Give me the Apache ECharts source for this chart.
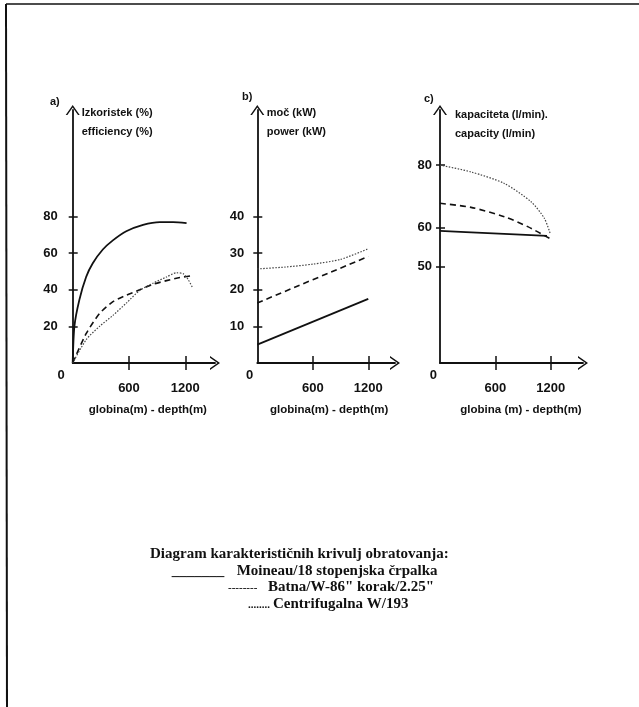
<!DOCTYPE html>
<html lang="sl">
<head>
<meta charset="UTF-8">
<title>Diagram karakterističnih krivulj obratovanja</title>
<script src="https://cdn.jsdelivr.net/npm/echarts@6/dist/echarts.min.js"></script>
<style>
  html, body { margin: 0; padding: 0; background: #fff; }
  #main { width: 639px; height: 707px; }
</style>
</head>
<body>
<div id="main"></div>
<script>
// globina (m) - depth (m)
var depthTicks = [600, 1200];

// a) izkoristek (%) - efficiency (%)
var effTicks = [20, 40, 60, 80];
var effMoineau = [[0, 0], [18, 20], [71, 34.5], [143, 47], [214, 54.5], [321, 62], [428, 67], [571, 72], [750, 75.5], [929, 77], [1071, 77], [1214, 76.4]];
var effBatna = [[0, 0], [143, 16], [286, 27], [429, 33.5], [571, 37], [714, 40], [857, 43], [1000, 45], [1143, 46.7], [1268, 47.6]];
var effCentrif = [[0, 0], [143, 12.7], [286, 20], [429, 26], [571, 32.7], [714, 39.6], [857, 43.6], [1000, 47], [1107, 49.3], [1179, 48.7], [1232, 45.5], [1279, 41]];

// b) moč (kW) - power (kW)
var powTicks = [10, 20, 30, 40];
var powMoineau = [[0, 5], [1200, 17.5]];
var powBatna = [[0, 16.4], [1200, 29.1]];
var powCentrif = [[0, 25.7], [300, 26.2], [600, 27], [900, 28.3], [1200, 31.2]];

// c) kapaciteta (l/min) - capacity (l/min)
var capTicks = [50, 60, 80];
var capMoineau = [[0, 59.1], [517, 58.5], [1160, 57.8]];
var capBatna = [[0, 67.7], [336, 66.4], [697, 63.4], [951, 60.2], [1186, 57.2]];
var capCentrif = [[0, 80], [336, 77.8], [697, 74.1], [987, 68.2], [1131, 62.9], [1196, 58.3]];

// the c) axis is drawn out of proportion: label value -> axis position
var capScaleFrom = [0, 50, 60, 80];
var capScaleTo = [0, 50, 70.5, 102.8];

function capPos(v) {
  for (var i = 1; i < capScaleFrom.length; i++) {
    if (v <= capScaleFrom[i] || i == capScaleFrom.length - 1) {
      var a = capScaleFrom[i - 1], b = capScaleFrom[i];
      var pa = capScaleTo[i - 1], pb = capScaleTo[i];
      return pa + (v - a) / (b - a) * (pb - pa);
    }
  }
}
function capLabel(p) {
  for (var i = 0; i < capScaleTo.length; i++) {
    if (Math.abs(capScaleTo[i] - p) < 0.01) return capScaleFrom[i];
  }
  return '';
}
function capData(arr) {
  return arr.map(function (d) { return [d[0], capPos(d[1])]; });
}

var ink = '#111';
var sans = '"Liberation Sans", Arial, sans-serif';
var serif = '"Liberation Serif", "Times New Roman", serif';
var arrow = 'path://M0,10 L7,0 L14,10 L12.3,10 L7,2.5 L1.7,10 Z';

var panels = [
  { left: 72.7, width: 142.3, xMax: 1517, yMax: 138.2, yTicks: effTicks, margin: 8, gap: 7,
    name: 'globina(m) - depth(m)', namePad: 8 },
  { left: 257.3, width: 137.7, xMax: 1489, yMax: 69.1, yTicks: powTicks, margin: 4, gap: 9,
    name: 'globina(m) - depth(m)', namePad: 6 },
  { left: 440, width: 143, xMax: 1550, yMax: 131.4, yTicks: capTicks.map(capPos), margin: 3, gap: 5,
    name: 'globina (m) - depth(m)', namePad: 19, fmt: capLabel }
];

var grids = [], xAxes = [], yAxes = [];
panels.forEach(function (p, i) {
  grids.push({ left: p.left, top: 110, width: p.width, height: 253 });
  xAxes.push({
    type: 'value', gridIndex: i, min: 0, max: p.xMax,
    splitLine: { show: false },
    axisLine: { show: true, lineStyle: { color: ink, width: 1.8 }, symbol: ['none', arrow], symbolSize: [14, 10] },
    axisTick: { show: true, length: 7, customValues: depthTicks, lineStyle: { color: ink, width: 1.5 } },
    axisLabel: {
      show: true, customValues: depthTicks, margin: 19,
      fontFamily: sans, fontWeight: 'bold', fontSize: 13, color: ink,
      formatter: function (v) { return String(v); }
    },
    name: p.name, nameLocation: 'middle', nameGap: 41,
    nameTextStyle: { fontFamily: sans, fontWeight: 'bold', fontSize: 11.5, color: ink, padding: [0, 0, 0, p.namePad] }
  });
  var fmt = p.fmt;
  yAxes.push({
    type: 'value', gridIndex: i, min: 0, max: p.yMax,
    splitLine: { show: false },
    axisLine: { show: true, lineStyle: { color: ink, width: 1.8 }, symbol: ['none', arrow], symbolSize: [14, 10] },
    axisTick: { show: true, length: 4, customValues: p.yTicks, lineStyle: { color: ink, width: 1.5 } },
    axisLabel: {
      show: true, margin: p.margin, customValues: [0].concat(p.yTicks),
      fontFamily: sans, fontWeight: 'bold', fontSize: 13, color: ink,
      formatter: function (v) {
        var t = fmt ? fmt(v) : v;
        return v === 0 ? '{z|' + t + '}' : '{n|' + t + '}';
      },
      rich: {
        z: { padding: [24, 0, 0, 0], fontFamily: sans, fontWeight: 'bold', fontSize: 13, color: ink },
        n: { padding: [0, p.gap, 0, 0], fontFamily: sans, fontWeight: 'bold', fontSize: 13, color: ink }
      }
    }
  });
});
// copies of the three grids that only carry the inner half of each tick
panels.forEach(function (p, i) {
  grids.push({ left: p.left, top: 110, width: p.width, height: 253 });
  xAxes.push({
    type: 'value', gridIndex: 3 + i, min: 0, max: p.xMax,
    splitLine: { show: false }, axisLine: { show: false }, axisLabel: { show: false },
    axisTick: { show: true, inside: true, length: 7, customValues: depthTicks, lineStyle: { color: ink, width: 1.5 } }
  });
  yAxes.push({
    type: 'value', gridIndex: 3 + i, min: 0, max: p.yMax,
    splitLine: { show: false }, axisLine: { show: false }, axisLabel: { show: false },
    axisTick: { show: true, inside: true, length: 5, customValues: p.yTicks, lineStyle: { color: ink, width: 1.5 } }
  });
});

var solid = { color: ink, width: 1.8, type: 'solid' };
var dashed = { color: ink, width: 1.6, type: [6, 4] };
var dotted = { color: '#444', width: 1.2, type: [1.5, 1.5] };

function curve(name, data, idx, style) {
  return {
    name: name, type: 'line', xAxisIndex: idx, yAxisIndex: idx, data: data,
    smooth: 0.25, showSymbol: false, silent: true, lineStyle: style
  };
}

var series = [
  curve('Moineau/18 stopenjska črpalka', effMoineau, 0, solid),
  curve('Batna/W-86" korak/2.25"', effBatna, 0, dashed),
  curve('Centrifugalna W/193', effCentrif, 0, dotted),
  curve('Moineau/18 stopenjska črpalka', powMoineau, 1, solid),
  curve('Batna/W-86" korak/2.25"', powBatna, 1, dashed),
  curve('Centrifugalna W/193', powCentrif, 1, dotted),
  curve('Moineau/18 stopenjska črpalka', capData(capMoineau), 2, solid),
  curve('Batna/W-86" korak/2.25"', capData(capBatna), 2, dashed),
  curve('Centrifugalna W/193', capData(capCentrif), 2, dotted)
];

function label(text, left, top, style) {
  return { text: text, left: left, top: top, padding: 0, textStyle: style };
}
var axisTitle = { fontFamily: sans, fontWeight: 'bold', fontSize: 11, color: ink, lineHeight: 19 };
var caption = { fontFamily: serif, fontWeight: 'bold', fontSize: 15, color: ink };
var leader = { fontFamily: serif, fontWeight: 'bold', fontSize: 11, color: ink };

var titles = [
  label('a)', 50, 92, axisTitle),
  label('Izkoristek (%)\nefficiency (%)', 81.7, 103.5, axisTitle),
  label('b)', 242, 87, axisTitle),
  label('moč (kW)\npower (kW)', 266.7, 103.5, axisTitle),
  label('c)', 424, 89, axisTitle),
  label('kapaciteta (l/min).\ncapacity (l/min)', 455, 105.5, axisTitle),
  label('Diagram karakterističnih krivulj obratovanja:', 150, 547, caption),
  label('_______', 171.7, 563.5, caption),
  label('Moineau/18 stopenjska črpalka', 236.7, 563.5, caption),
  label('--------', 228, 583, leader),
  label('Batna/W-86" korak/2.25"', 268, 580, caption),
  label('........', 248, 599.5, leader),
  label('Centrifugalna W/193', 273, 596.5, caption)
];

var myChart = echarts.init(document.getElementById('main'));
myChart.setOption({
  backgroundColor: '#fff',
  animation: false,
  title: titles,
  grid: grids,
  xAxis: xAxes,
  yAxis: yAxes,
  series: series,
  graphic: [
    { type: 'line', shape: { x1: 6, y1: 4, x2: 639, y2: 4 }, style: { stroke: ink, lineWidth: 1.5 } },
    { type: 'line', shape: { x1: 6, y1: 4, x2: 7, y2: 707 }, style: { stroke: ink, lineWidth: 2 } }
  ]
});
</script>
</body>
</html>
